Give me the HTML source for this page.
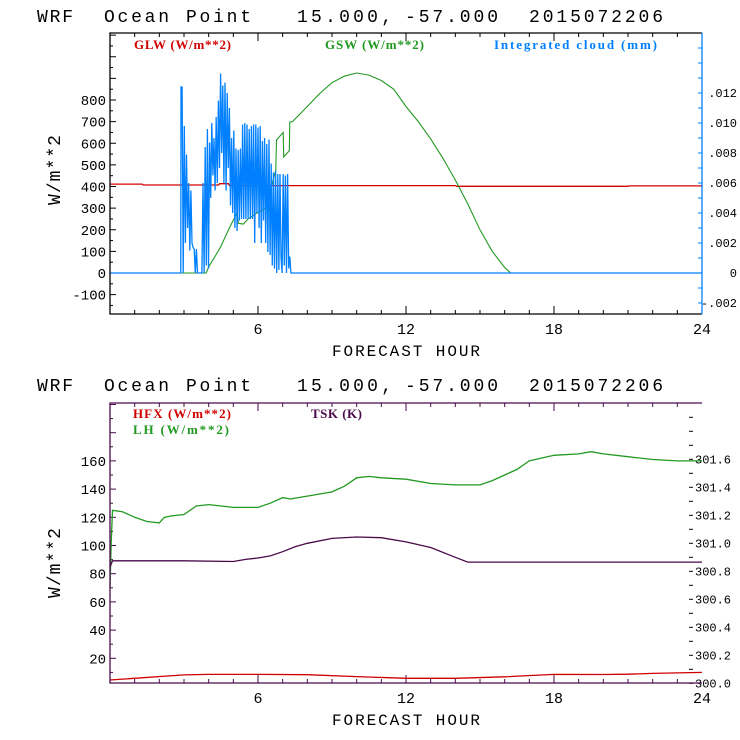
<!DOCTYPE html>
<html><head><meta charset="utf-8"><style>
html,body{margin:0;padding:0;background:#fff;}
svg{display:block;}
.t{font-family:"Liberation Mono",monospace;}
.s{font-family:"Liberation Serif",serif;font-weight:bold;}
</style></head><body>
<svg id="svg" width="740" height="740" viewBox="0 0 740 740">
<g id="top"></g>
<g id="bot"></g>
</svg>
<script>
// ---- top panel data ----
const glwHours=[0,1.3,1.35,4.4,4.45,4.8,4.85,14,14.05,21,21.05,24];
const glwVals=[411,411,407,407,413,413,404,404,401,401,403,403];
const gswHours=[0,3.9,4.0,4.46,4.86,5.15,5.2,5.4,5.6,6,6.3,6.72,6.75,7.02,7.04,7.27,7.29,7.4,8,8.5,9,9.5,10,10.5,11,11.5,12,12.5,13,13.5,14,14.5,15,15.5,16,16.25,24];
const gswVals=[0,0,28,115,213,277,230,226,250,280,300,476,615,650,537,565,698,700,770,830,880,910,925,915,890,850,770,700,620,530,430,320,200,100,25,0,0];
const cloudStart=2.88, cloudEnd=7.38;
const cloudMilli=[12.4,12.4,0,9.8,2,7.9,3,6,1.5,5.5,2,1.7,1.6,0,1.6,0,0,0,0,0,6,0,8.4,0.5,9.6,0.3,8.7,5,10,6.5,9,5.5,10.4,6,11.5,7,13.3,8,12.5,6,12.7,5.5,12,7,11,4.5,9,4,9.5,3,8.3,2.8,8.2,3.5,8.3,3.6,9.9,3.6,10,3.6,9.9,3.6,9.6,3.6,9.8,3.6,9.9,2,9.9,4,9.7,3,9.8,2,8.8,3.5,9,2,8.6,1.4,8.9,1.2,7.3,0.5,6.7,0.3,6.8,0,6.6,0.2,6.6,1.1,0,6.6,0.5,6.5,0,6.6,0.3,1.1,0,0];
const topLeftTicks=[-100,0,100,200,300,400,500,600,700,800];
const topRightTicks=[-0.002,0,0.002,0.004,0.006,0.008,0.010,0.012];
const topRightLabels=["-.002","0",".002",".004",".006",".008",".010",".012"];
const xTicks=[6,12,18,24];
// ---- bottom panel data ----
const lhHours=[0,0.05,0.1,0.5,1,1.5,2,2.2,2.5,3,3.5,4,4.5,5,5.5,6,6.5,7,7.3,8,9,9.5,10,10.5,11,12,13,14,15,15.5,16,16.5,17,18,19,19.5,20,21,22,23,24];
const lhVals=[70,102,125,124,120,117,116,120,121,122,128,129,128,127,127,127,130,134,133,135,138,142,148,149,148,147,144,143,143,146,150,154,160,164,165,166.5,165,163,161,160,160];
const tskHours=[0,0.1,3,5,5.5,6,6.5,7,7.5,8,9,10,11,12,13,14,14.5,18,20,24];
const tskVals=[300.83,300.875,300.875,300.87,300.885,300.895,300.91,300.94,300.975,301.0,301.035,301.045,301.04,301.01,300.97,300.9,300.866,300.866,300.866,300.866];
const hfxHours=[0,3,4,6,8,10,12,14,16,18,20,21,22,24];
const hfxVals=[4.6,8.2,8.6,8.6,8.4,7,5.8,5.8,6.9,8.6,8.5,8.7,9.3,10];
const botLeftTicks=[20,40,60,80,100,120,140,160];
const botRightTicks=[300.0,300.2,300.4,300.6,300.8,301.0,301.2,301.4,301.6];
const botRightLabels=["300.0","300.2","300.4","300.6","300.8","301.0","301.2","301.4","301.6"];

const NS="http://www.w3.org/2000/svg";
function mk(parent,tag,attrs,text){const e=document.createElementNS(NS,tag);for(const k in attrs)e.setAttribute(k,attrs[k]);if(text!==undefined)e.textContent=text;parent.appendChild(e);return e;}
const X0=110,X1=702;
const xS=h=>X0+h*(X1-X0)/24;
const yT=v=>273-v*0.21625;
const yTR=v=>273-v*15000;
const yB=v=>686.5-v*1.41;
const yBR=v=>683.3-(v-300)*140;

function poly(g,hs,vs,ys,color,name,w){
  const p=hs.map((h,i)=>xS(h).toFixed(1)+","+ys(vs[i]).toFixed(1)).join(" ");
  const e=mk(g,"polyline",{points:p,fill:"none",stroke:color,"stroke-width":w||1.3});
  
  
}
function title(y){
  const svg=document.getElementById('svg');
  const parts=[["WRF",37,36],["Ocean",104,65],["Point",186,65],["15.000,",297,95],["-57.000",405,93],["2015072206",529,134]];
  parts.forEach(p=>{
    const t=mk(svg,"text",{x:p[1],y:y,"font-size":18,class:"t",textLength:p[2],lengthAdjust:"spacing",fill:"#000"},p[0]);
    
    
  });
}
function xaxis(g,top,bot,color){
  for(let h=1;h<24;h++){const len=(h%6===0)?8:4;
    mk(g,"line",{x1:xS(h),x2:xS(h),y1:bot,y2:bot-len,stroke:color,"stroke-width":1});
    mk(g,"line",{x1:xS(h),x2:xS(h),y1:top,y2:top+len,stroke:color,"stroke-width":1});}
  xTicks.forEach(h=>{const t=mk(g,"text",{x:xS(h),y:bot+20,"font-size":15,class:"t","text-anchor":"middle",fill:"#000"},String(h));
    
    });
  const xt=mk(g,"text",{x:406,y:bot+42,"font-size":16,class:"t","text-anchor":"middle",textLength:148,fill:"#000"},"FORECAST HOUR");
  
  
}
function ylabel(g,cy){
  const t=mk(g,"text",{x:0,y:0,"font-size":18,class:"t","text-anchor":"middle",transform:`translate(60,${cy}) rotate(-90)`,textLength:70,fill:"#000"},"W/m**2");
  
  
}
function legend(g,x,y,txt,color,w,name){
  const t=mk(g,"text",{x:x,y:y,"font-size":13,class:"s",fill:color,textLength:w},txt);
  
  
}

// ===== TOP =====
title(22);
const gt=document.getElementById('top');
for(let v=-150;v<=1100;v+=50){const y=yT(v);if(y<34||y>313)continue;const len=(v%100===0)?6:3;
  mk(gt,"line",{x1:X0,x2:X0+len,y1:y,y2:y,stroke:"#000","stroke-width":1});}
topLeftTicks.forEach(v=>{const t=mk(gt,"text",{x:106,y:yT(v)+5,"font-size":14,class:"t","text-anchor":"end",fill:"#000"},String(v));
  
  });
for(let k=-2;k<=15;k++){const v=k*0.001;const y=yTR(v);if(y<34||y>313)continue;
  mk(gt,"line",{x1:X1,x2:X1-4,y1:y,y2:y,stroke:"#0080ff","stroke-width":1});}
topRightTicks.forEach((v,i)=>{const t=mk(gt,"text",{x:737,y:yTR(v)+4,"font-size":12,class:"t","text-anchor":"end",fill:"#000"},topRightLabels[i]);
  
  });
xaxis(gt,33,314,"#000");
ylabel(gt,170);
poly(gt,glwHours,glwVals,yT,"#d00000","glw-line");
poly(gt,gswHours,gswVals,yT,"#229922","gsw-line",1.1);
{const n=cloudMilli.length;const hs=cloudMilli.map((_,i)=>cloudStart+i*(cloudEnd-cloudStart)/(n-1));
 const allH=[0,cloudStart-0.01].concat(hs).concat([24]);const allV=[0,0].concat(cloudMilli.map(v=>v/1000)).concat([0]);
 poly(gt,allH,allV,yTR,"#0080ff","cloud-line",1.3);}
mk(gt,"polyline",{points:`${X1},33 ${X0},33 ${X0},314 ${X1},314`,fill:"none",stroke:"#000","stroke-width":1.3});
mk(gt,"line",{x1:X1,x2:X1,y1:33,y2:314,stroke:"#0080ff","stroke-width":1.3});
legend(gt,134,49,"GLW (W/m**2)","#d00000",97,"legend-glw");
legend(gt,325,49,"GSW (W/m**2)","#229922",99,"legend-gsw");
legend(gt,494,49,"Integrated cloud (mm)","#0080ff",163,"legend-cloud");

// ===== BOTTOM =====
title(391);
const gb=document.getElementById('bot');
const PC="#4a0a4a";
for(let v=10;v<=200;v+=10){const y=yB(v);if(y<404||y>682)continue;const len=(v%20===0)?6:3;
  mk(gb,"line",{x1:X0,x2:X0+len,y1:y,y2:y,stroke:PC,"stroke-width":1});}
botLeftTicks.forEach(v=>{const t=mk(gb,"text",{x:106,y:yB(v)+5,"font-size":14,class:"t","text-anchor":"end",fill:"#000"},String(v));
  
  });
for(let k=0;k<=19;k++){const v=300+k*0.1;const y=yBR(v);if(y<410)continue;
  mk(gb,"line",{x1:689,x2:693,y1:y,y2:y,stroke:"#000","stroke-width":1});}
botRightTicks.forEach((v,i)=>{const t=mk(gb,"text",{x:695,y:yBR(v)+4,"font-size":12,class:"t",fill:"#000"},botRightLabels[i]);
  
  });
xaxis(gb,403,683,PC);
ylabel(gb,563);
poly(gb,lhHours,lhVals,yB,"#229922","lh-line");
poly(gb,tskHours,tskVals,yBR,PC,"tsk-line");
poly(gb,hfxHours,hfxVals,yB,"#d00000","hfx-line");
mk(gb,"polyline",{points:`${X1},403 ${X0},403 ${X0},683 ${X1},683`,fill:"none",stroke:PC,"stroke-width":1.3});
legend(gb,133,418,"HFX (W/m**2)","#d00000",98,"legend-hfx");
legend(gb,133,434,"LH  (W/m**2)","#229922",96,"legend-lh");
legend(gb,311,418,"TSK (K)",PC,51,"legend-tsk");
</script>
</body></html>
